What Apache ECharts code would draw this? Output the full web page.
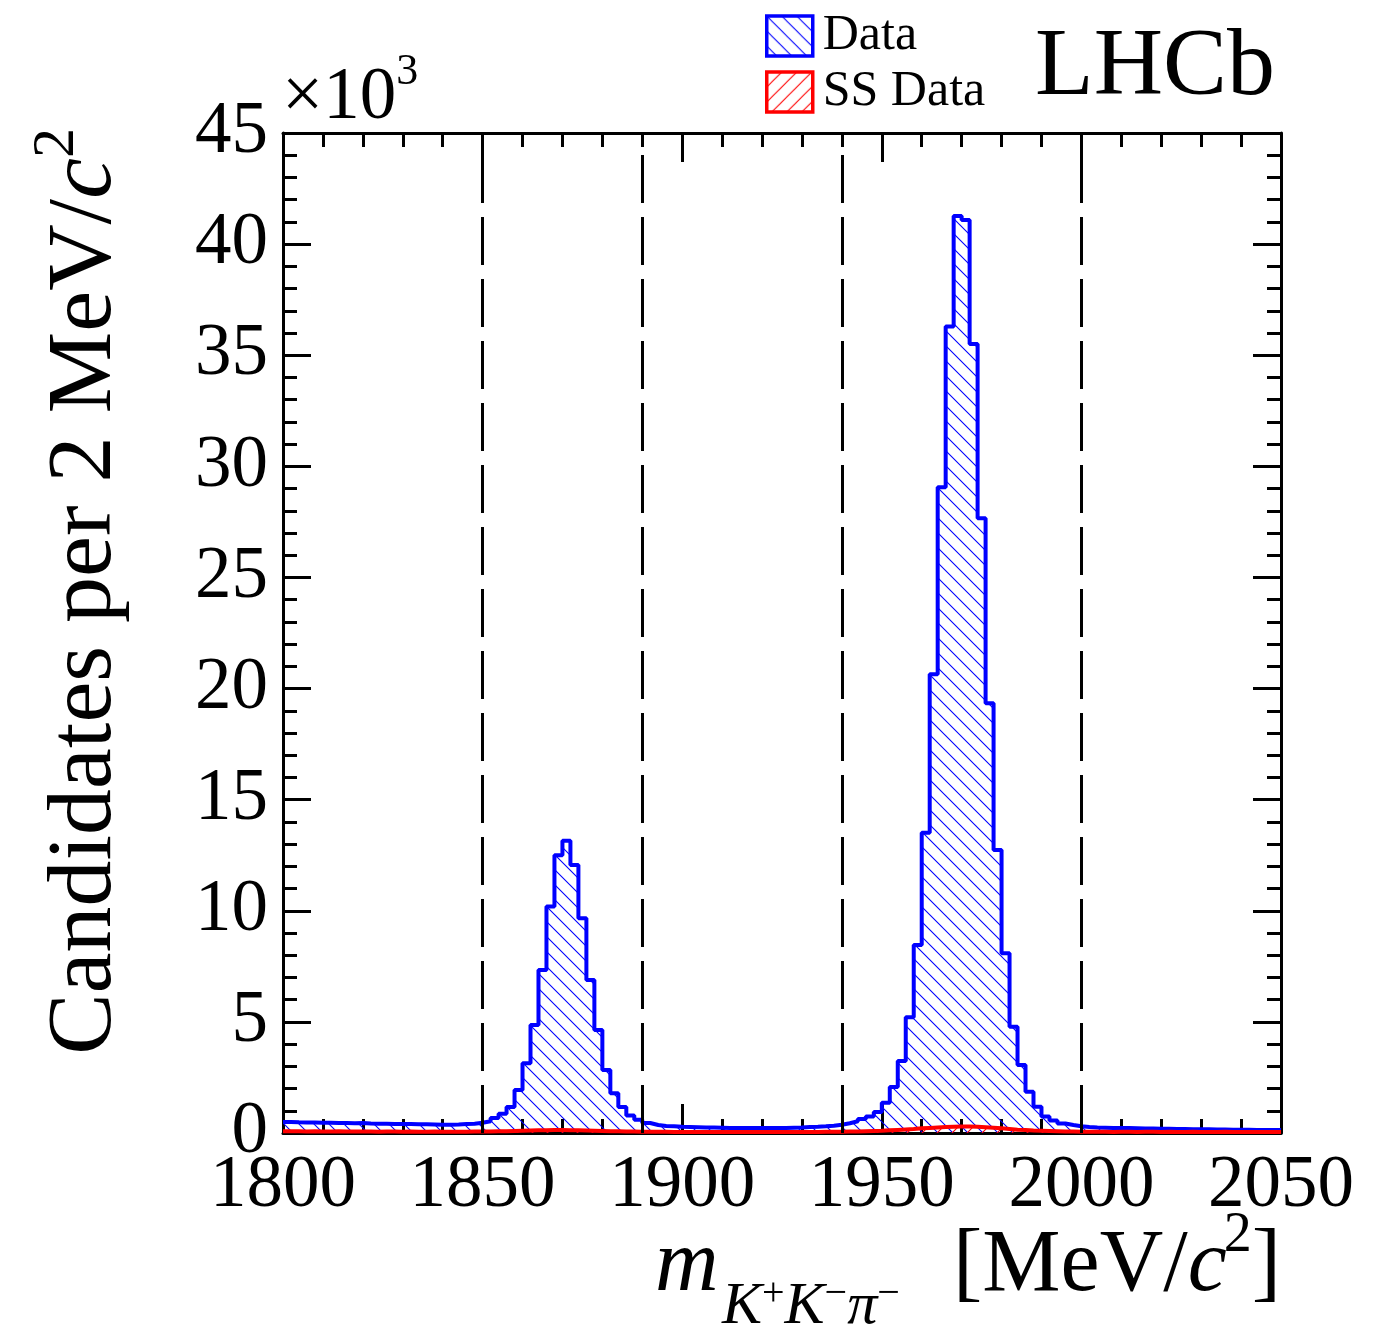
<!DOCTYPE html>
<html>
<head>
<meta charset="utf-8">
<script src="https://cdn.jsdelivr.net/npm/echarts@6/dist/echarts.min.js"></script>
<style>
html,body{margin:0;padding:0;background:#ffffff;}
#chart{width:1399px;height:1329px;}
</style>
</head>
<body>
<div id="chart"></div>
<script>
// ---------------- data (values in units of 10^3 candidates per 2 MeV/c^2) -------------
const massMin = 1800;
const massMax = 2050;
const binWidth = 2;

// "Data" histogram, one value per 2 MeV bin starting at 1800
const dataCounts = [
  0.50, 0.48, 0.47, 0.47, 0.46, 0.46, 0.45, 0.45, 0.44, 0.45,   // 1800-1818
  0.43, 0.42, 0.42, 0.41, 0.41, 0.40, 0.39, 0.39, 0.38, 0.37,   // 1820-1838
  0.37, 0.38, 0.40, 0.42, 0.46, 0.53, 0.68, 0.87, 1.17, 1.94,   // 1840-1858
  3.14, 4.86, 7.34, 10.19, 12.50, 13.15, 12.06, 9.66, 6.88, 4.64, // 1860-1878
  2.84, 1.79, 1.17, 0.79, 0.60, 0.45, 0.36, 0.32, 0.30, 0.28,   // 1880-1898
  0.27, 0.26, 0.25, 0.25, 0.24, 0.23, 0.23, 0.22, 0.22, 0.22,   // 1900-1918
  0.22, 0.23, 0.23, 0.24, 0.25, 0.27, 0.28, 0.30, 0.33, 0.37,   // 1920-1938
  0.44, 0.53, 0.63, 0.74, 0.94, 1.36, 2.07, 3.24, 5.21, 8.46,   // 1940-1958
  13.51, 20.64, 29.06, 36.29, 41.27, 41.09, 35.51, 27.66, 19.34, 12.74, // 1960-1978
  8.09, 4.78, 3.06, 1.86, 1.18, 0.74, 0.56, 0.43, 0.36, 0.30,   // 1980-1998
  0.27, 0.25, 0.24, 0.23, 0.22, 0.22, 0.21, 0.20, 0.20, 0.19,   // 2000-2018
  0.19, 0.18, 0.18, 0.17, 0.17, 0.17, 0.16, 0.16, 0.15, 0.15,   // 2020-2038
  0.15, 0.14, 0.14, 0.14, 0.13                                  // 2040-2048
];

// "SS Data" histogram
const ssCounts = [
  0.08, 0.08, 0.07, 0.08, 0.07, 0.07, 0.08, 0.07, 0.07, 0.07,
  0.07, 0.06, 0.07, 0.07, 0.06, 0.07, 0.06, 0.06, 0.07, 0.06,
  0.06, 0.06, 0.06, 0.07, 0.07, 0.07, 0.08, 0.08, 0.09, 0.10,
  0.11, 0.12, 0.12, 0.13, 0.13, 0.12, 0.12, 0.11, 0.10, 0.09,
  0.08, 0.08, 0.07, 0.07, 0.06, 0.06, 0.06, 0.06, 0.05, 0.05,
  0.05, 0.05, 0.05, 0.05, 0.05, 0.05, 0.05, 0.05, 0.05, 0.05,
  0.05, 0.05, 0.05, 0.05, 0.05, 0.05, 0.05, 0.06, 0.06, 0.06,
  0.07, 0.07, 0.08, 0.09, 0.10, 0.12, 0.14, 0.16, 0.18, 0.21,
  0.23, 0.25, 0.27, 0.28, 0.29, 0.29, 0.28, 0.26, 0.24, 0.21,
  0.18, 0.15, 0.13, 0.11, 0.10, 0.09, 0.08, 0.07, 0.07, 0.06,
  0.06, 0.06, 0.06, 0.05, 0.06, 0.06, 0.05, 0.06, 0.06, 0.05,
  0.06, 0.05, 0.05, 0.06, 0.05, 0.05, 0.05, 0.06, 0.05, 0.05,
  0.05, 0.05, 0.05, 0.05, 0.05
];

const xTickLabels = [1800, 1850, 1900, 1950, 2000, 2050];
const yTickLabels = [0, 5, 10, 15, 20, 25, 30, 35, 40, 45];
const regionBoundaries = [1850, 1890, 1940, 2000];
const seriesNames = ['Data', 'SS Data'];

// ---------------- helpers ----------------
const FONT = 'Liberation Serif';
const BLUE = '#0000ff';
const RED = '#ff0000';

function hatch(color, dir, size) {
  const c = document.createElement('canvas');
  c.width = size; c.height = size;
  const g = c.getContext('2d');
  g.strokeStyle = color;
  g.lineWidth = 1.1;
  g.beginPath();
  if (dir === 'back') {
    for (const k of [-size, 0, size]) { g.moveTo(k - 1, -1); g.lineTo(k + size + 1, size + 1); }
  } else {
    for (const k of [-size, 0, size]) { g.moveTo(k - 1, size + 1); g.lineTo(k + size + 1, -1); }
  }
  g.stroke();
  return { image: c, repeat: 'repeat' };
}
const blueHatch = hatch(BLUE, 'back', 15);
const redHatch = hatch(RED, 'fwd', 15);

function stepPoints(counts) {
  const pts = counts.map((v, i) => [massMin + i * binWidth, v]);
  pts.push([massMax, counts[counts.length - 1]]);
  return pts;
}

const mctx = document.createElement('canvas').getContext('2d');
function tw(t, s, it) {
  mctx.font = (it ? 'italic ' : '') + s + 'px "' + FONT + '"';
  return mctx.measureText(t).width;
}
// lay out a run of text pieces on a common baseline
function textRun(pieces, x0, base, align) {
  const total = pieces.reduce((a, p) => a + tw(p.t, p.s, p.it) + (p.kern || 0), 0);
  let x = align === 'right' ? x0 - total : x0;
  return pieces.map(p => {
    const el = {
      type: 'text', x: x, y: base + (p.dy || 0) - 0.3375 * p.s, silent: true,
      style: {
        text: p.t, fontFamily: FONT, fontSize: p.s, fontStyle: p.it ? 'italic' : 'normal',
        fill: '#000', align: 'left', verticalAlign: 'middle', textAlign: 'left', textVerticalAlign: 'middle'
      }
    };
    x += tw(p.t, p.s, p.it) + (p.kern || 0);
    return el;
  });
}

const axisCommon = {
  type: 'value',
  min: massMin, max: massMax, interval: 50,
  axisLine: { show: true, onZero: false, lineStyle: { color: '#000', width: 3 } },
  axisTick: { show: true, inside: true, length: 29, lineStyle: { color: '#000', width: 3 } },
  minorTick: { show: true, splitNumber: 5, length: 14, lineStyle: { color: '#000', width: 3 } },
  splitLine: { show: false },
  minorSplitLine: { show: false }
};
const yCommon = {
  type: 'value',
  min: 0, max: 45, interval: 5,
  axisLine: { show: true, onZero: false, lineStyle: { color: '#000', width: 3 } },
  axisTick: { show: true, inside: true, length: 28, lineStyle: { color: '#000', width: 3 } },
  minorTick: { show: true, splitNumber: 5, length: 14, lineStyle: { color: '#000', width: 3 } },
  splitLine: { show: false },
  minorSplitLine: { show: false }
};

const graphics = []
  .concat(textRun([{ t: '\u00d710', s: 73 }, { t: '3', s: 44, dy: -36 }], 282, 123, 'left'))
  .concat(textRun([{ t: 'LHCb', s: 96 }], 1275, 101, 'right'))
  .concat(textRun([{ t: 'm', s: 88, it: true }], 655, 1297, 'left'))
  .concat(textRun([
    { t: 'K', s: 60, it: true }, { t: '+', s: 40, dy: -19 },
    { t: 'K', s: 60, it: true }, { t: '\u2212', s: 40, dy: -19 },
    { t: '\u03c0', s: 60, it: true }, { t: '\u2212', s: 40, dy: -19 }
  ], 722, 1327, 'left'))
  .concat(textRun([
    { t: '[MeV/', s: 88 }, { t: 'c', s: 88, it: true, kern: -3 }, { t: '2', s: 56, dy: -42 }, { t: ']', s: 88 }
  ], 1281, 1297, 'right'));

graphics.push({
  type: 'group', x: 117, y: 128, rotation: Math.PI / 2,
  children: textRun([
    { t: 'Candidates per 2 MeV/', s: 92 }, { t: 'c', s: 92, it: true }, { t: '2', s: 60, dy: -40 }
  ], 0, 0, 'right')
});

const option = {
  animation: false,
  backgroundColor: '#ffffff',
  grid: { left: 283, right: 118, top: 133, bottom: 196, containLabel: false },
  legend: {
    orient: 'vertical', left: 765, top: 11, padding: 0, itemWidth: 46, itemHeight: 40, itemGap: 6,
    selectedMode: false,
    textStyle: { fontFamily: FONT, fontSize: 50, color: '#000', padding: [0, 0, 0, 5] },
    data: [
      { name: seriesNames[0], icon: 'rect', itemStyle: { color: blueHatch, borderColor: BLUE, borderWidth: 3.5 } },
      { name: seriesNames[1], icon: 'rect', itemStyle: { color: redHatch, borderColor: RED, borderWidth: 3.5 } }
    ]
  },
  xAxis: [
    Object.assign({}, axisCommon, {
      position: 'bottom',
      axisLabel: {
        show: true, margin: 17, fontFamily: FONT, fontSize: 73, color: '#000',
        formatter: v => (xTickLabels.indexOf(v) >= 0 ? String(v) : '')
      }
    }),
    Object.assign({}, axisCommon, { position: 'top', axisLabel: { show: false } })
  ],
  yAxis: [
    Object.assign({}, yCommon, {
      position: 'left',
      axisLabel: {
        show: true, margin: 15, fontFamily: FONT, fontSize: 73, color: '#000',
        formatter: v => (yTickLabels.indexOf(v) >= 0 ? String(v) : '')
      }
    }),
    Object.assign({}, yCommon, { position: 'right', axisLabel: { show: false } })
  ],
  graphic: graphics,
  series: [
    {
      name: seriesNames[0], type: 'line', step: 'end', xAxisIndex: 0, yAxisIndex: 0,
      symbol: 'none', silent: true, clip: true,
      data: stepPoints(dataCounts),
      lineStyle: { color: BLUE, width: 4 },
      itemStyle: { color: BLUE },
      areaStyle: { color: blueHatch, opacity: 1, origin: 'start' },
      z: 2,
      markLine: {
        silent: true, symbol: ['none', 'none'], label: { show: false },
        lineStyle: { color: '#000', width: 3, type: [48, 14] },
        data: regionBoundaries.map(v => ({ xAxis: v }))
      }
    },
    {
      name: seriesNames[1], type: 'line', step: 'end', xAxisIndex: 0, yAxisIndex: 0,
      symbol: 'none', silent: true, clip: true,
      data: stepPoints(ssCounts),
      lineStyle: { color: RED, width: 4 },
      itemStyle: { color: RED },
      areaStyle: { color: redHatch, opacity: 1, origin: 'start' },
      z: 3
    }
  ]
};

const chart = echarts.init(document.getElementById('chart'), null, { renderer: 'canvas' });
chart.setOption(option);
</script>
</body>
</html>
